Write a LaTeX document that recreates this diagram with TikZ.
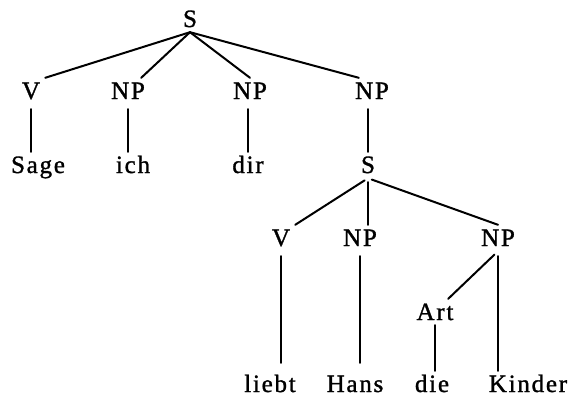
\documentclass[tikz,border=0pt]{standalone}
\usepackage{fontspec}
\setmainfont{Liberation Serif}[LetterSpace=7,FakeBold=1.2]

\begin{document}
\begin{tikzpicture}[x=1pt, y=-1pt,
cat/.style = {
    anchor=base,
    inner xsep=5pt, inner ysep=5pt,
    text height=16pt, text depth=0pt,
    font=\fontsize{25}{29}\selectfont,
                            },
branch/.style = {line width=2pt, line cap=round},
stem/.style   = {branch, shorten <=5pt},
                    ]
\useasboundingbox (0,0) rectangle (574,399);
% main clause
\node[cat] (s1)    at (190,27)  {S};
\node[cat] (v1)    at (31,99)   {V};
\node[cat] (np1)   at (128,99)  {NP};
\node[cat] (np2)   at (250,99)  {NP};
\node[cat] (np3)   at (372,99)  {NP};
\node[cat] (sage)  at (38,173)  {Sage};
\node[cat] (ich)   at (133,173) {ich};
\node[cat] (dir)   at (248,173) {dir};
\node[cat] (s2)    at (368,173) {S};
% embedded clause
\node[cat] (v2)     at (281,246) {V};
\node[cat] (np4)    at (360,246) {NP};
\node[cat] (np5)    at (498,246) {NP};
\node[cat] (art)    at (435,320) {Art};
\node[cat] (liebt)  at (270,392) {liebt};
\node[cat] (hans)   at (355,392) {Hans};
\node[cat] (die)    at (432,392) {die};
\node[cat] (kinder) at (528,392) {Kinder};

\draw[branch] (s1.south) -- (v1.north east);
\draw[branch] (s1.south) -- (np1.45);
\draw[branch] (s1.south) -- (np2.north);
\draw[branch] (s1.south) -- (np3.135);
\draw[stem] (v1.south)  -- (v1.south |- sage.north);
\draw[stem] (np1.south) -- (np1.south |- ich.north);
\draw[stem] (np2.south -| dir.north) -- (dir.north);
\draw[stem] (np3.south -| s2.north)  -- (s2.north);

\draw[branch,shorten <=4pt] (s2.south) -- (v2.north east);
\draw[branch,shorten <=4pt] (s2.south) -- (s2.south |- np4.north);
\draw[branch,shorten <=4pt] (s2.south) -- (np5.north);
\draw[stem,shorten >=8pt] (v2.south)  -- (v2.south |- liebt.north);
\draw[stem,shorten >=8pt] (np4.south) -- (np4.south |- hans.north);
\draw[stem] (np5.south) -- (np5.south |- kinder.north);
\draw[stem] (np5.south) -- (art.45);
\draw[branch] (art.south) -- (art.south |- die.north);
\end{tikzpicture}
\end{document}
